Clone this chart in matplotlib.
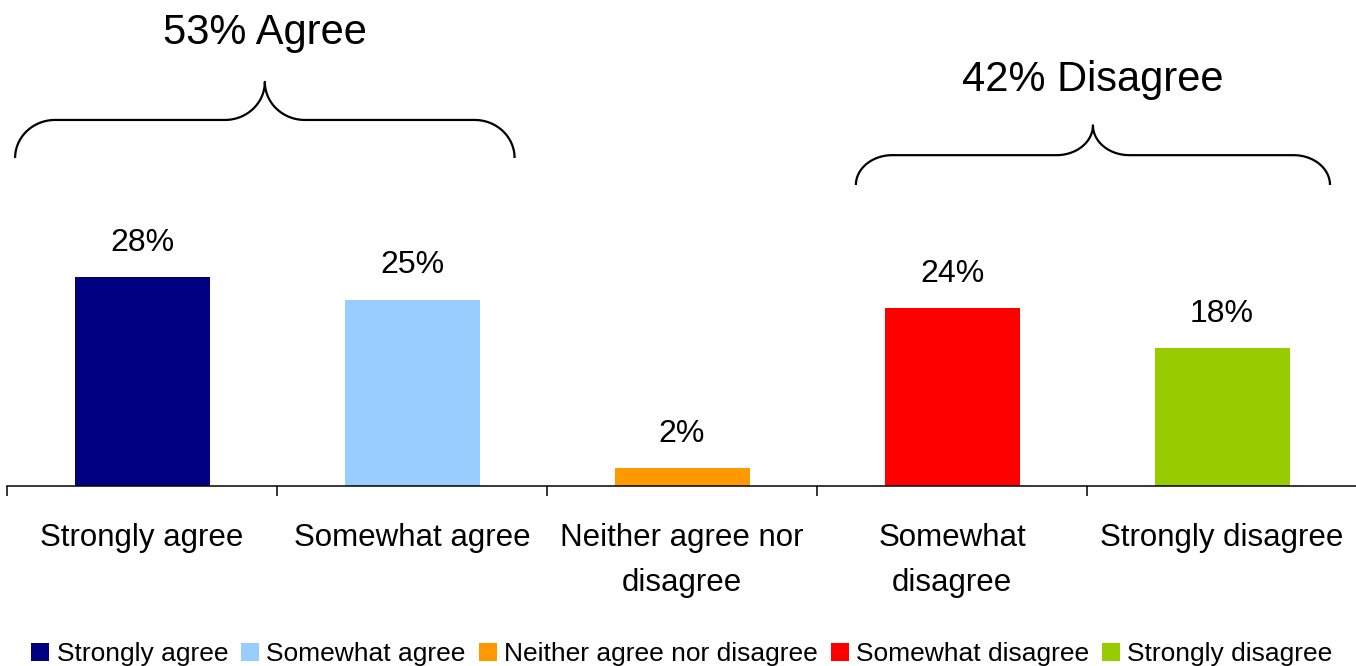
import numpy as np
import matplotlib
matplotlib.use('Agg')
import matplotlib.pyplot as plt

# survey answers
categories = ['Strongly agree', 'Somewhat agree', 'Neither agree nor disagree',
              'Somewhat disagree', 'Strongly disagree']
tick_labels = ['Strongly agree', 'Somewhat agree', 'Neither agree nor\ndisagree',
               'Somewhat\ndisagree', 'Strongly disagree']
values = [28, 25, 2.4, 23.9, 18.5]
value_labels = ['28%', '25%', '2%', '24%', '18%']
colors = ['#000080', '#99CCFF', '#FF9900', '#FF0000', '#99CC00']

# group summaries drawn over braces
group_labels = ['53% Agree', '42% Disagree']


def draw_brace(ax, x0, x1, y_bot, rx, ry, lw=1.6):
    # curly brace opening downwards, tip in the middle
    xm = (x0 + x1) / 2.0
    y_mid = y_bot + ry
    y_tip = y_mid + ry
    t = np.linspace(0, np.pi / 2, 30)
    # left end: rises from (x0, y_bot) to (x0 + rx, y_mid)
    p1x = x0 + rx - rx * np.cos(t)
    p1y = y_bot + ry * np.sin(t)
    # left of tip: from (xm - rx, y_mid) up to (xm, y_tip)
    p2x = xm - rx + rx * np.sin(t)
    p2y = y_tip - ry * np.cos(t)
    xs = np.concatenate([p1x, p2x])
    ys = np.concatenate([p1y, p2y])
    # mirror for the right half
    xs_all = np.concatenate([xs, (2 * xm - xs)[::-1]])
    ys_all = np.concatenate([ys, ys[::-1]])
    ax.plot(xs_all, ys_all, color='black', lw=lw, clip_on=False,
            solid_capstyle='butt')
    return xm, y_tip


plt.rcParams['font.family'] = ['Liberation Sans', 'DejaVu Sans']

fig = plt.figure(figsize=(13.56, 6.66), dpi=100)
ax = fig.add_axes([7 / 1356, 1 - 486 / 666, 1350 / 1356, 486 / 666])

x = np.arange(len(categories))
for i in range(len(categories)):
    ax.bar(x[i], values[i], width=0.5, color=colors[i], label=categories[i],
           zorder=2)
    ax.annotate(value_labels[i], (x[i], values[i]), xytext=(0, 24.5),
                textcoords='offset points', ha='center', va='center',
                fontsize=23)

ax.set_xlim(-0.5, len(categories) - 0.5)
ax.set_ylim(0, 65.15)

for side in ['top', 'right', 'left']:
    ax.spines[side].set_visible(False)
ax.spines['bottom'].set_linewidth(1.1)
ax.set_yticks([])

# tick marks on category boundaries, labels at centres
ax.set_xticks(np.arange(len(categories) + 1) - 0.5)
ax.set_xticklabels([])
ax.tick_params(axis='x', which='major', length=7.2, width=1.1, direction='out')
ax.set_xticks(x, minor=True)
ax.set_xticklabels(tick_labels, minor=True, fontsize=22.5, linespacing=1.68)
ax.tick_params(axis='x', which='minor', length=0, pad=26.5)

# braces with group totals
bx, by = draw_brace(ax, -0.47, 1.38, 43.97, 0.148, 5.1)
ax.text(bx, 60.7, group_labels[0], ha='center', va='center', fontsize=30)
bx, by = draw_brace(ax, 2.644, 4.40, 40.35, 0.135, 4.0)
ax.text(bx, 54.45, group_labels[1], ha='center', va='center', fontsize=30)

fig.legend(loc='center', bbox_to_anchor=(682 / 1356, 1 - 654 / 666), ncol=5,
           frameon=False, fontsize=19, handlelength=0.68, handleheight=0.68,
           handletextpad=0.27, columnspacing=0.5, borderpad=0)

fig.savefig('out.png', dpi=100)
